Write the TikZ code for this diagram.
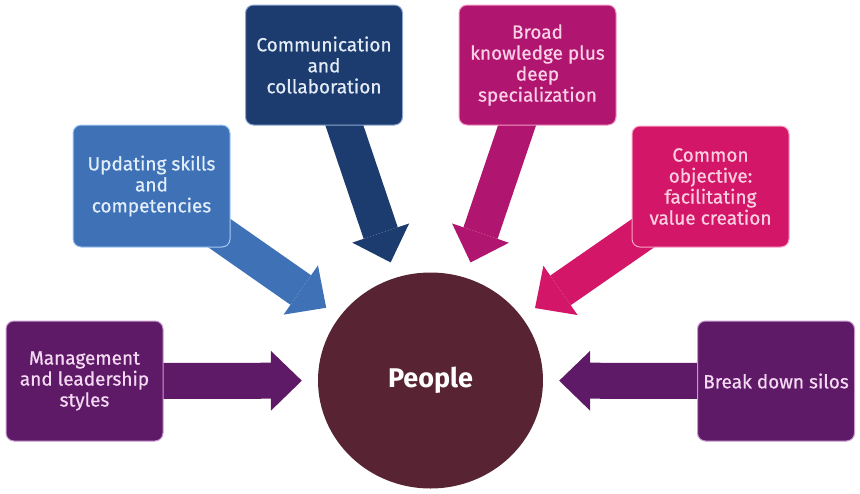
\documentclass[tikz,border=0pt]{standalone}
\usepackage{fontspec}
\setmainfont{Fira Sans}
\newfontfamily\cardfont{Fira Sans}[FakeBold=0.7]
\usetikzlibrary{arrows.meta,shapes.geometric,backgrounds}

\definecolor{plum}{HTML}{5F1A67}
\definecolor{plumtext}{HTML}{F3D9F2}
\definecolor{plumedge}{HTML}{C89AD0}
\definecolor{steel}{HTML}{3F71B7}
\definecolor{steeltext}{HTML}{E2EEFA}
\definecolor{steeledge}{HTML}{A9CBF2}
\definecolor{navy}{HTML}{1C3B6E}
\definecolor{navytext}{HTML}{E3ECF6}
\definecolor{navyedge}{HTML}{8FA9CF}
\definecolor{berry}{HTML}{B0166F}
\definecolor{berrytext}{HTML}{FAD0E6}
\definecolor{berryedge}{HTML}{F09AC8}
\definecolor{rose}{HTML}{D31668}
\definecolor{rosetext}{HTML}{FAD0E0}
\definecolor{roseedge}{HTML}{F7A6C8}
\definecolor{maroon}{HTML}{582433}

\tikzset{
  card/.style={rounded corners=8pt, minimum width=157pt, minimum height=120pt,
    align=center, line width=1pt, font=\cardfont\fontsize{19}{21}\selectfont},
  flow/.style={line width=36pt, shorten <=-30pt, shorten >=16pt,
    -{Triangle[line width=0pt, length=31pt, width=60pt]}},
}

\begin{document}
\begin{tikzpicture}[x=1pt, y=-1pt]
  \useasboundingbox (0,0) rectangle (860,493);

  % central circle
  \node (people) [ellipse, fill=maroon, minimum width=225pt, minimum height=216pt,
    text=white, font=\fontsize{27}{30}\selectfont\bfseries] at (430.5,380.5) {People};

  % surrounding cards
  \node (mgmt) [card, fill=plum, draw=plumedge, text=plumtext] at (84.5,381)
    {Management\\and leadership\\styles};
  \node (skills) [card, fill=steel, draw=steeledge, text=steeltext, minimum height=122pt] at (151.5,186)
    {Updating skills\\and\\competencies};
  \node (comm) [card, fill=navy, draw=navyedge, text=navytext] at (324,65)
    {Communication\\and\\collaboration};
  \node (broad) [card, fill=berry, draw=berryedge, text=berrytext] at (537.5,65)
    {Broad\\knowledge plus\\deep\\specialization};
  \node (goal) [card, fill=rose, draw=roseedge, text=rosetext, minimum height=121pt] at (710.5,186.5)
    {Common\\objective:\\facilitating\\value creation};
  \node (silos) [card, fill=plum, draw=plumedge, text=plumtext] at (776,381)
    {Break down silos};

  % block arrows into the circle
  \begin{pgfonlayer}{background}
    \draw[flow, plum]  (mgmt)   -- (people);
    \draw[flow, steel] (skills) -- (people);
    \draw[flow, navy]  (comm)   -- (people);
    \draw[flow, berry] (broad)  -- (people);
    \draw[flow, rose]  (goal)   -- (people);
    \draw[flow, plum]  (silos)  -- (people);
  \end{pgfonlayer}
\end{tikzpicture}
\end{document}
